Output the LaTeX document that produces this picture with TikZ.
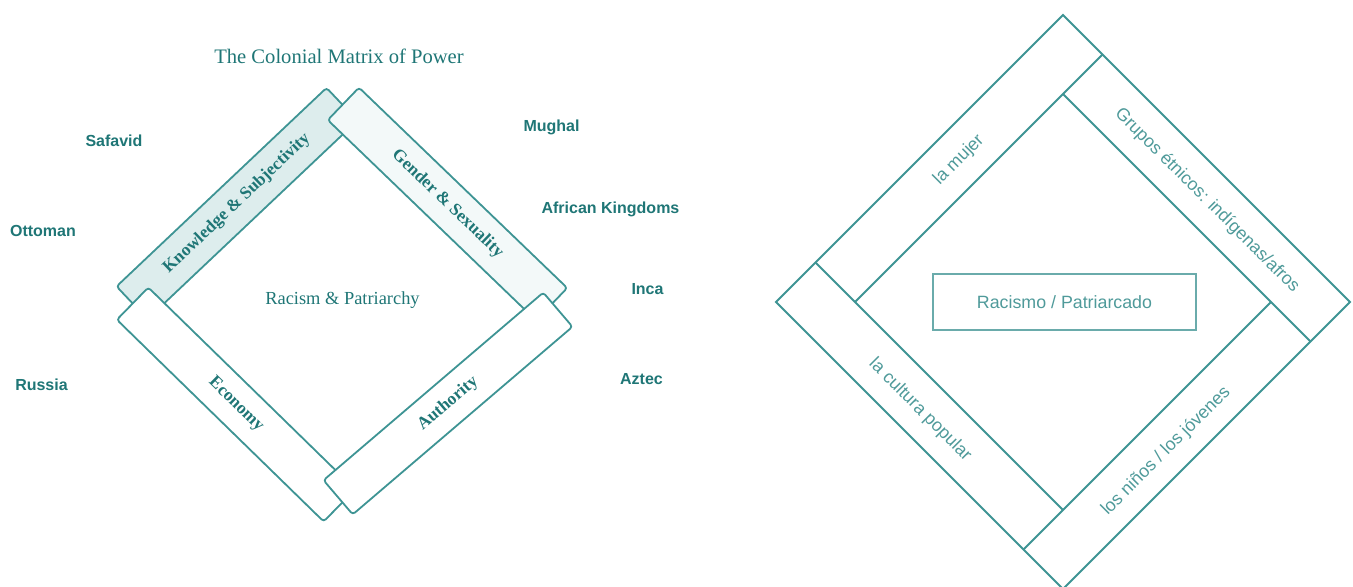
\documentclass[tikz,border=0pt]{standalone}
\usepackage{fontspec}
\setmainfont{Liberation Serif}
\newfontfamily\sansf{Liberation Sans}
\definecolor{lineteal}{HTML}{3E9494}
\definecolor{darkteal}{HTML}{1F7676}
\definecolor{kfill}{HTML}{DDEDED}
\definecolor{gfill}{HTML}{F3F9F9}
\definecolor{rtext}{HTML}{4F9A9A}
\definecolor{boxline}{HTML}{6AABAB}
\begin{document}
\begin{tikzpicture}[x=0.5pt,y=-0.5pt,
  band/.style={draw=lineteal, line width=0.9pt, rounded corners=1.5pt, fill=white,
    minimum width=144.5pt, minimum height=22.5pt, inner sep=0pt,
    text=darkteal, font=\fontsize{8.7}{10}\selectfont\bfseries},
  country/.style={text=darkteal, font=\sansf\fontsize{8}{9}\selectfont\bfseries, inner sep=0pt},
  rlabel/.style={text=rtext, font=\sansf\fontsize{8.9}{11}\selectfont, inner sep=0pt},
  rline/.style={draw=lineteal, line width=1pt, line join=miter}]
\useasboundingbox (0,0) rectangle (1353,587);
% ---------- left diagram ----------
\node[text=darkteal, font=\fontsize{10.3}{12}\selectfont] (title) at (339,56) {The Colonial Matrix of Power};
\node[band, fill=kfill, rotate=43.4] (K) at (237,203.5) {Knowledge \& Subjectivity};
\node[band, fill=gfill, rotate=-43.9] (G) at (447.5,204) {Gender \& Sexuality};
\node[band, rotate=-44.3] (E) at (236,404.5) {Economy};
\node[band, rotate=40.5] (A) at (448,403.5) {Authority};
\node[text=darkteal, font=\fontsize{9.2}{11}\selectfont, inner sep=0pt] (center) at (342.5,300) {Racism \& Patriarchy};
\node[country] (safavid) at (114,141) {Safavid};
\node[country] (ottoman) at (43,231) {Ottoman};
\node[country] (russia) at (41.5,385) {Russia};
\node[country] (mughal) at (551.5,127) {Mughal};
\node[country] (african) at (610.5,209) {African Kingdoms};
\node[country] (inca) at (647.5,289) {Inca};
\node[country] (aztec) at (641.5,379) {Aztec};
% ---------- right diagram ----------
\coordinate (T) at (1063,15);
\coordinate (R) at (1350,302);
\coordinate (B) at (1063,589);
\coordinate (L) at (776,302);
\coordinate (Ti) at (1063,94);
\coordinate (Ri) at (1271,302);
\coordinate (Bi) at (1063,510);
\coordinate (Li) at (855,302);
\coordinate (P1) at (1102.5,54.5);
\coordinate (P2) at (1310.5,341.5);
\coordinate (P3) at (1023.5,549.5);
\coordinate (P4) at (815.5,262.5);
\draw[rline] (T) -- (R) -- (B) -- (L) -- cycle;
\draw[rline] (P1) -- (Li);
\draw[rline] (Ti) -- (P2);
\draw[rline] (Ri) -- (P3);
\draw[rline] (Bi) -- (P4);
\node[draw=boxline, line width=1.3pt, minimum width=131.5pt, minimum height=28pt, inner sep=0pt,
  rlabel] (box) at (1064.5,302) {Racismo / Patriarcado};
\node[rlabel, rotate=45] (mujer) at (959,160) {la mujer};
\node[rlabel, rotate=-45] (grupos) at (1207,200.5) {Grupos étnicos: indígenas/afros};
\node[rlabel, rotate=45] (ninos) at (1166,451) {los niños / los jóvenes};
\node[rlabel, rotate=-45] (cultura) at (920,410) {la cultura popular};
\end{tikzpicture}
\end{document}
